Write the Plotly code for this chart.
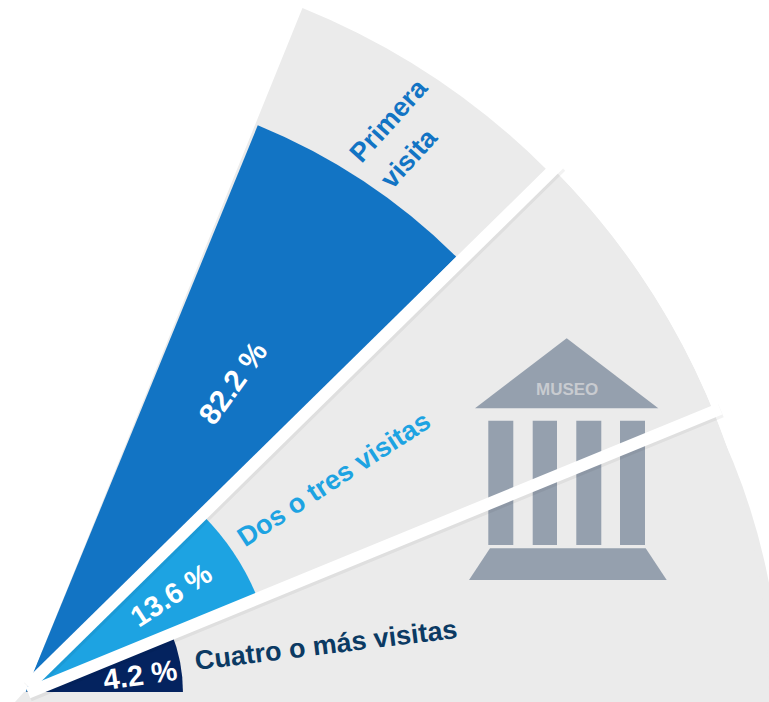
import math
import plotly.graph_objects as go

# --- data ---
labels = ["Primera visita", "Dos o tres visitas", "Cuatro o más visitas"]
shares = [82.2, 13.6, 4.2]
share_labels = ["82.2 %", "13.6 %", "4.2 %"]
# sector geometry (angle in degrees, radius as % of full wedge)
sector_centers = [56.5, 33.5, 11.0]
sector_widths = [22.4, 22.6, 22.0]
drawn_radius = [82.4, 33.7, 21.2]
full_radius = [99.3, 100, 100]
colors = ["#1274C4", "#1DA3E2", "#04235F"]
divider_angles = [44.5, 22.3]
divider_starts = [(28, 686), (28, 692.7)]

W, H = 769, 702
CX, CY = 25, 692


def px(x, y):
    return x / W, 1 - y / H


def poly(points):
    parts = []
    for i, (x, y) in enumerate(points):
        a, b = px(x, y)
        parts.append(("M" if i == 0 else "L") + f"{a:.5f},{b:.5f}")
    return " ".join(parts) + " Z"


GRAY = "#EBEBEB"
ICON = "#95A0AE"
shapes = []

# gray that runs past the polar frame (below the base line and at the right edge)
shapes.append(dict(type="path", xref="paper", yref="paper", layer="below", line_width=0,
                   fillcolor=GRAY, path=poly([(15, 702), (24, 692), (769, 692), (769, 702)])))
a1, b1 = px(712, 415)
ac, bc = px(752, 495)
a2, b2 = px(769, 583)
a3, b3 = px(769, 695)
a4, b4 = px(690, 695)
shapes.append(dict(type="path", xref="paper", yref="paper", layer="below", line_width=0,
                   fillcolor=GRAY,
                   path=f"M{a1:.5f},{b1:.5f} Q{ac:.5f},{bc:.5f} {a2:.5f},{b2:.5f} L{a3:.5f},{b3:.5f} L{a4:.5f},{b4:.5f} Z"))

# museum icon
for pts in [
    [(566.7, 338.3), (475, 408.3), (658.3, 408.3)],
    [(488.3, 420.7), (513.3, 420.7), (513.3, 545), (488.3, 545)],
    [(532.7, 420.7), (557, 420.7), (557, 545), (532.7, 545)],
    [(576.3, 420.7), (601.3, 420.7), (601.3, 545), (576.3, 545)],
    [(620, 420.7), (645, 420.7), (645, 545), (620, 545)],
    [(490, 548.3), (645.7, 548.3), (666.7, 580), (469, 580)],
]:
    shapes.append(dict(type="path", xref="paper", yref="paper", layer="above", line_width=0,
                       fillcolor=ICON, path=poly(pts)))

# white dividers, drawn on top of the icon, each with a faint soft edge below it
for ang, (x0, y0) in zip(divider_angles, divider_starts):
    length = 745 if ang > 30 else 748
    x1 = x0 + length * math.cos(math.radians(ang))
    y1 = y0 - length * math.sin(math.radians(ang))
    a, b = px(x0 + 1, y0 + 2)
    c, d = px(x1 + 1, y1 + 2)
    shapes.append(dict(type="line", xref="paper", yref="paper", layer="above",
                       x0=a, y0=b, x1=c, y1=d, line=dict(color="rgba(0,0,0,0.05)", width=14)))
    a, b = px(x0, y0)
    c, d = px(x1, y1)
    shapes.append(dict(type="line", xref="paper", yref="paper", layer="above",
                       x0=a, y0=b, x1=c, y1=d, line=dict(color="white", width=12)))

fig = go.Figure()
# gray full-length sectors
fig.add_trace(go.Barpolar(r=full_radius, theta=sector_centers, width=[22.9, 22.7, 22.2],
                          marker=dict(color=GRAY, line_width=0), hoverinfo="skip", showlegend=False))
# coloured sectors
fig.add_trace(go.Barpolar(r=drawn_radius, theta=sector_centers, width=sector_widths,
                          marker=dict(color=colors, line_width=0), customdata=shares,
                          text=labels, showlegend=False))


def note(text, x, y, size, color, angle, family="Liberation Sans"):
    a, b = px(x, y)
    return dict(text=f"<b>{text}</b>", x=a, y=b, xref="paper", yref="paper", xanchor="center",
                yanchor="middle", showarrow=False, textangle=angle,
                font=dict(family=family, size=size, color=color))


annotations = [
    note(share_labels[0], 232, 383, 30, "white", -54),
    note(share_labels[1], 171, 595, 29, "white", -33),
    note(share_labels[2], 140, 675, 29, "white", -8),
    note("Primera", 389, 120, 27, colors[0], -48),
    note("visita", 409, 158, 27, colors[0], -48),
    note(labels[1], 334, 479, 27, colors[1], -33),
    note(labels[2], 326, 645, 27, "#0B3A63", -7),
    note("MUSEO", 566.7, 389, 17, "#C8CBD0", 0),
]

fig.update_layout(
    width=W, height=H,
    margin=dict(l=0, r=0, t=0, b=0),
    paper_bgcolor="white",
    showlegend=False,
    shapes=shapes,
    annotations=annotations,
    polar=dict(
        domain=dict(x=[CX / W, 1], y=[(H - CY) / H, 1]),
        sector=[0, 68.6],
        bgcolor="rgba(0,0,0,0)",
        barmode="overlay",
        radialaxis=dict(range=[0, 100], visible=False),
        angularaxis=dict(visible=False, direction="counterclockwise", rotation=0),
    ),
)

fig.write_html("out.html", config=dict(displayModeBar=False),
               post_script="document.body.style.margin='0';document.body.style.overflow='hidden';")
